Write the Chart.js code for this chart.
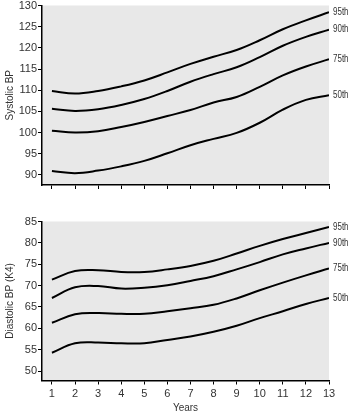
<!DOCTYPE html>
<html>
<head>
<meta charset="utf-8">
<script src="https://cdn.jsdelivr.net/npm/chart.js@4.4.1/dist/chart.umd.min.js"></script>
<style>
  html, body { margin: 0; padding: 0; background: #fff; }
  #wrap { position: relative; width: 350px; height: 416px; }
  canvas { position: absolute; left: 0; }
</style>
</head>
<body>
<div id="wrap">
  <canvas id="sys" width="350" height="200" style="top:0px"></canvas>
  <canvas id="dia" width="350" height="216" style="top:200px"></canvas>
</div>
<script>
const years = [1, 2, 3, 4, 5, 6, 7, 8, 9, 10, 11, 12, 13];
const percentiles = ['95th', '90th', '75th', '50th'];

// systolic BP by percentile
const sys95 = [109.8, 109.2, 109.8, 110.9, 112.3, 114.2, 116.2, 117.9, 119.5, 121.8, 124.4, 126.5, 128.4];
const sys90 = [105.6, 105.1, 105.5, 106.5, 107.9, 109.8, 112.0, 113.8, 115.4, 117.8, 120.5, 122.6, 124.3];
const sys75 = [100.4, 100.0, 100.3, 101.3, 102.5, 103.9, 105.3, 107.1, 108.4, 110.8, 113.5, 115.6, 117.3];
const sys50 = [90.9, 90.4, 91.0, 92.0, 93.3, 95.1, 97.0, 98.5, 99.9, 102.3, 105.4, 107.7, 108.8];

// diastolic BP (K4) by percentile
const dia95 = [71.4, 73.4, 73.6, 73.2, 73.2, 73.8, 74.6, 75.8, 77.5, 79.3, 80.9, 82.3, 83.7];
const dia90 = [67.1, 69.6, 69.9, 69.3, 69.5, 70.1, 71.1, 72.2, 73.8, 75.5, 77.3, 78.7, 80.0];
const dia75 = [61.3, 63.3, 63.6, 63.4, 63.4, 64.0, 64.7, 65.5, 67.0, 68.9, 70.7, 72.4, 74.0];
const dia50 = [54.3, 56.5, 56.7, 56.5, 56.5, 57.3, 58.1, 59.2, 60.6, 62.4, 64.0, 65.7, 67.1];

const sysTicks = [90, 95, 100, 105, 110, 115, 120, 125, 130];
const diaTicks = [50, 55, 60, 65, 70, 75, 80, 85];

const FONT = 'Liberation Sans, Arial, sans-serif';
const TXT = '#333';

const bgPlugin = {
  id: 'bg',
  beforeDraw(chart) {
    const a = chart.chartArea, ctx = chart.ctx;
    ctx.save();
    ctx.fillStyle = '#e8e8e8';
    ctx.fillRect(a.left, a.top, a.right - a.left, a.bottom - a.top);
    ctx.restore();
  }
};

// percentile names at the end of each curve (squeezed a bit, the original font is narrow)
const endLabels = {
  id: 'endLabels',
  afterDatasetsDraw(chart) {
    const ctx = chart.ctx;
    chart.data.datasets.forEach((ds, i) => {
      const pts = chart.getDatasetMeta(i).data;
      const p = pts[pts.length - 1];
      ctx.save();
      ctx.font = '10px ' + FONT;
      ctx.fillStyle = TXT;
      ctx.textAlign = 'left';
      ctx.textBaseline = 'middle';
      ctx.translate(p.x + 4, p.y);
      ctx.scale(0.8, 1);
      ctx.fillText(ds.label, 0, 0);
      ctx.restore();
    });
  }
};

function makeChart(id, series, yMin, yMax, yTicks, yTitle, showX, padTop, xHeight) {
  new Chart(document.getElementById(id), {
    type: 'line',
    data: {
      labels: years,
      datasets: series.map((s, i) => ({
        label: percentiles[i],
        data: years.map((x, j) => ({ x: x, y: s[j] })),
        borderColor: '#000',
        borderWidth: 2,
        pointRadius: 0,
        tension: 0.4,
        fill: false
      }))
    },
    options: {
      responsive: false,
      animation: false,
      devicePixelRatio: 1,
      layout: { padding: { top: padTop, right: 21, left: 0, bottom: 0 } },
      plugins: { legend: { display: false }, tooltip: { enabled: false } },
      scales: {
        x: {
          type: 'linear',
          min: 0.57,
          max: 13,
          afterBuildTicks: s => { s.ticks = years.map(v => ({ value: v })); },
          afterFit: s => { s.height = xHeight; s.paddingLeft = 0; s.paddingRight = 0; },
          grid: { drawOnChartArea: false, drawTicks: true, tickLength: 4, tickColor: '#000', lineWidth: 1 },
          border: { display: true, color: '#000', width: 1.5 },
          ticks: { display: showX, color: TXT, font: { family: FONT, size: 11 }, padding: 3, maxRotation: 0, autoSkip: false },
          title: { display: showX, text: 'Years', color: TXT, font: { family: FONT, size: 10 }, padding: { top: 0, bottom: 2 } }
        },
        y: {
          min: yMin,
          max: yMax,
          afterBuildTicks: s => { s.ticks = yTicks.map(v => ({ value: v })); },
          afterFit: s => { s.width = 42; s.paddingTop = 0; s.paddingBottom = 0; },
          grid: { drawOnChartArea: false, drawTicks: true, tickLength: 4, tickColor: '#000', lineWidth: 1 },
          border: { display: true, color: '#000', width: 1.5 },
          ticks: { color: TXT, font: { family: FONT, size: 11 }, padding: 1, autoSkip: false },
          title: { display: true, text: yTitle, color: TXT, font: { family: FONT, size: 10 }, padding: { top: 4, bottom: 0 } }
        }
      }
    },
    plugins: [bgPlugin, endLabels]
  });
}

makeChart('sys', [sys95, sys90, sys75, sys50], 87.6, 130, sysTicks, 'Systolic BP', false, 5.5, 15);
makeChart('dia', [dia95, dia90, dia75, dia50], 47.8, 85, diaTicks, 'Diastolic BP (K4)', true, 21.5, 35.5);
</script>
</body>
</html>
